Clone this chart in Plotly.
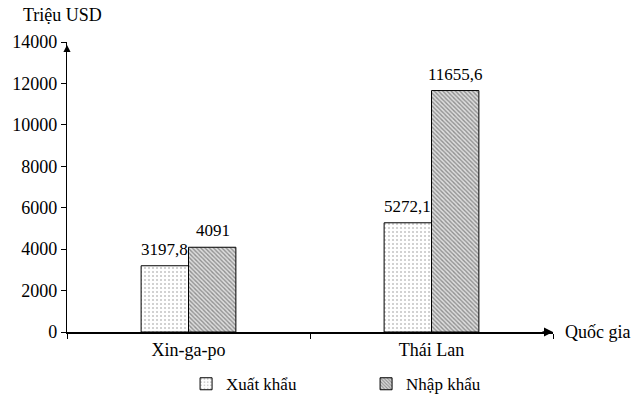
import plotly.graph_objects as go

countries = ["Xin-ga-po", "Thái Lan"]
xuat_khau = [3197.8, 5272.1]
nhap_khau = [4091, 11655.6]
xuat_labels = ["3197,8", "5272,1"]
nhap_labels = ["4091", "11655,6"]
y_ticks = [0, 2000, 4000, 6000, 8000, 10000, 12000, 14000]

font = "Liberation Serif"

fig = go.Figure()
fig.add_trace(go.Bar(x=countries, y=xuat_khau, name="Xuất khẩu",
                     marker=dict(color="white", line=dict(color="black", width=1),
                                 pattern=dict(shape=".", fgcolor="#888888", bgcolor="white",
                                              size=4, solidity=0.2))))
fig.add_trace(go.Bar(x=countries, y=nhap_khau, name="Nhập khẩu",
                     marker=dict(color="#bbbbbb", line=dict(color="black", width=1),
                                 pattern=dict(shape="\\", fgcolor="#444444", bgcolor="#dddddd",
                                              size=3, solidity=0.45))))
fig.update_traces(width=0.195)

# value labels above bars, a bit higher than plotly's default outside text
for vals, labels, dx in [(xuat_khau, xuat_labels, -24), (nhap_khau, nhap_labels, 24)]:
    for c, v, t in zip(countries, vals, labels):
        fig.add_annotation(x=c, y=v, text=t, showarrow=False, xshift=dx, yshift=5,
                           yanchor="bottom", font=dict(family=font, size=17))

fig.update_layout(
    width=639, height=402,
    margin=dict(l=67, r=86, t=42, b=70, autoexpand=False),
    paper_bgcolor="white", plot_bgcolor="white",
    font=dict(family=font, size=17, color="black"),
    barmode="group", bargap=0.61, bargroupgap=0,
    showlegend=True,
    legend=dict(orientation="h", x=0.245, y=-0.18, xanchor="left", yanchor="middle",
                font=dict(family=font, size=17), itemwidth=30, tracegroupgap=0,
                entrywidth=135),
)

fig.update_xaxes(showline=True, linecolor="black", linewidth=2, ticks="outside",
                 tickson="boundaries", ticklen=5, tickcolor="black",
                 tickfont=dict(family=font, size=18), range=[-0.5, 1.5], showgrid=False)
fig.update_yaxes(showline=True, linecolor="black", linewidth=1.2, ticks="outside",
                 ticklen=5, tickcolor="black", tickvals=y_ticks,
                 ticktext=[str(v) for v in y_ticks], range=[0, 14000],
                 showgrid=False, zeroline=False, tickfont=dict(family=font, size=18))

# axis arrows and titles
fig.add_annotation(x=1.0, y=0, xref="paper", yref="paper", ax=-14, ay=0,
                   showarrow=True, arrowhead=2, arrowsize=1.2, arrowwidth=1.5, arrowcolor="black")
fig.add_annotation(x=0, y=0.99, xref="paper", yref="paper", ax=0, ay=14,
                   showarrow=True, arrowhead=2, arrowsize=1.2, arrowwidth=1.2, arrowcolor="black")
fig.add_annotation(x=1.02, y=0, xref="paper", yref="paper", text="Quốc gia",
                   showarrow=False, xanchor="left", yanchor="middle",
                   font=dict(family=font, size=18))
fig.add_annotation(x=-0.01, y=1.05, xref="paper", yref="paper", text="Triệu USD",
                   showarrow=False, xanchor="center", yanchor="bottom",
                   font=dict(family=font, size=18))

fig.write_html("out.html", config={"displayModeBar": False},
               post_script="document.body.style.margin='0';")
